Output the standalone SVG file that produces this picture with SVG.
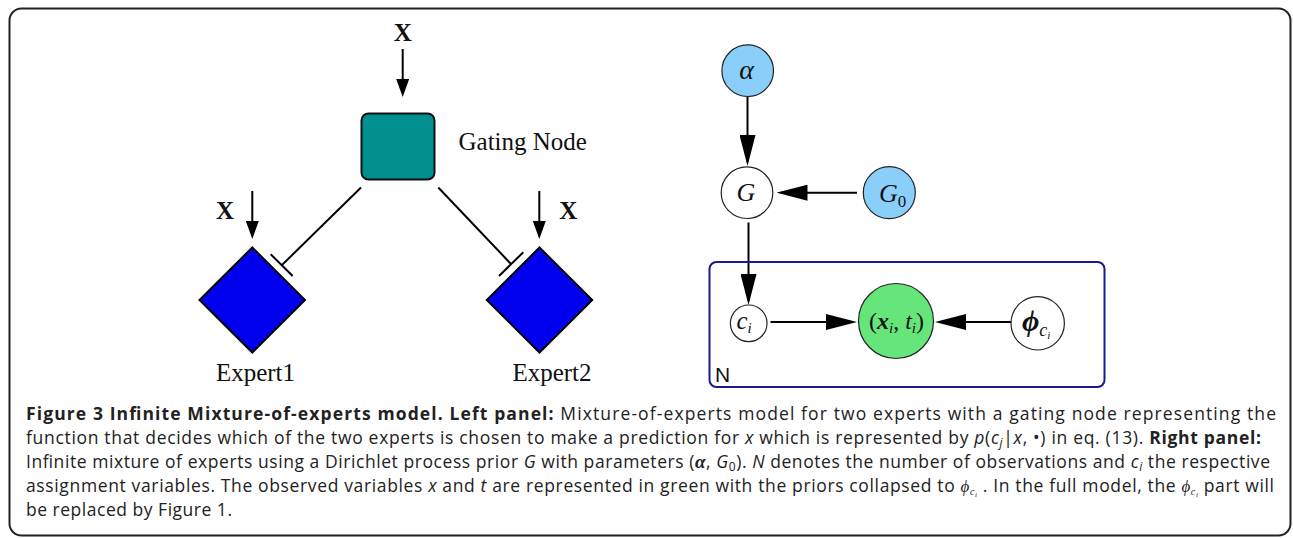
<svg xmlns="http://www.w3.org/2000/svg" width="1293" height="538" viewBox="0 0 1293 538">
<style>
.lbl{font-family:"Liberation Serif","Times New Roman",serif;fill:#111}
.math{font-family:"Liberation Serif","DejaVu Serif",serif;font-style:italic;fill:#111}
.cap{font-family:"Open Sans","Noto Sans",sans-serif;font-size:17.5px;fill:#222}
.b{font-weight:700}
.i{font-style:italic}
.edge{stroke:#000;stroke-width:2;fill:none}
.circ{stroke:#222;stroke-width:1.2}
</style>
<defs>
<marker id="arrL" markerUnits="userSpaceOnUse" markerWidth="18" markerHeight="13" refX="14" refY="6.5" orient="auto">
<path d="M0,0 L18,6.5 L0,13 z" fill="#000"/>
</marker>
<marker id="arrR" markerUnits="userSpaceOnUse" markerWidth="31" markerHeight="16" refX="27" refY="8" orient="auto">
<path d="M0,0 L31,8 L0,16 z" fill="#000"/>
</marker>
</defs>
<rect id="frame" x="9.5" y="8.5" width="1281" height="527" rx="12" fill="#fff" stroke="#222" stroke-width="2"/>

<g id="connectors">
<line class="edge" x1="402.7" y1="49" x2="402.7" y2="93" marker-end="url(#arrL)"/>
<line class="edge" x1="252.3" y1="191" x2="252.3" y2="235" marker-end="url(#arrL)"/>
<line class="edge" x1="539.3" y1="191" x2="539.3" y2="235" marker-end="url(#arrL)"/>
<line class="edge" x1="361" y1="187.5" x2="282" y2="265"/>
<line class="edge" x1="270.7" y1="254.3" x2="292.7" y2="276"/>
<line class="edge" x1="438.3" y1="187.5" x2="511" y2="264"/>
<line class="edge" x1="499" y1="276" x2="523.3" y2="252.3"/>
<line class="edge" x1="747.5" y1="96.5" x2="747.5" y2="162" marker-end="url(#arrR)"/>
<line class="edge" x1="857" y1="192.7" x2="780.5" y2="192.7" marker-end="url(#arrR)"/>
<line class="edge" x1="748.5" y1="222.5" x2="748.5" y2="301" marker-end="url(#arrR)"/>
<line class="edge" x1="770.5" y1="322" x2="853" y2="322" marker-end="url(#arrR)"/>
<line class="edge" x1="1011" y1="322" x2="939" y2="322" marker-end="url(#arrR)"/>
</g>

<g id="x-top"><text class="lbl b" x="402.7" y="40.7" font-size="25" text-anchor="middle">X</text></g>
<g id="gating">
<rect x="361.5" y="113.5" width="73" height="66" rx="7" fill="#008f8f" stroke="#111" stroke-width="2"/>
<text class="lbl" x="458.5" y="150" font-size="25">Gating Node</text>
</g>
<g id="x-left"><text class="lbl b" x="225" y="219" font-size="25" text-anchor="middle">X</text></g>
<g id="x-right"><text class="lbl b" x="568.3" y="219" font-size="25" text-anchor="middle">X</text></g>
<g id="expert1">
<polygon points="252.3,247.5 305,300 252.3,352.5 199.5,300" fill="#0000ee" stroke="#000" stroke-width="2"/>
<text class="lbl" x="255.5" y="381" font-size="25" text-anchor="middle">Expert1</text>
</g>
<g id="expert2">
<polygon points="539.5,247.5 592.2,300 539.5,352.5 486.8,300" fill="#0000ee" stroke="#000" stroke-width="2"/>
<text class="lbl" x="552" y="381" font-size="25" text-anchor="middle">Expert2</text>
</g>

<g id="plate">
<rect x="709.5" y="262" width="395" height="125" rx="7" fill="none" stroke="#1a1a8c" stroke-width="2"/>
<text x="715" y="382" font-family="'Liberation Sans',Arial,sans-serif" font-size="21" fill="#111">N</text>
</g>
<g id="alpha">
<circle class="circ" cx="747.7" cy="70.7" r="25.8" fill="#89cffa"/>
<text class="math" x="746.5" y="78.5" font-size="28" text-anchor="middle">α</text>
</g>
<g id="G">
<circle class="circ" cx="747" cy="192.7" r="25.8" fill="#fff"/>
<text class="math" x="746" y="201" font-size="26" text-anchor="middle">G</text>
</g>
<g id="G0">
<circle class="circ" cx="889.3" cy="192.7" r="26" fill="#89cffa"/>
<text class="math" x="879" y="202" font-size="26">G<tspan font-style="normal" font-size="17" dy="5">0</tspan></text>
</g>
<g id="ci">
<circle class="circ" cx="748.7" cy="323.3" r="18.3" fill="#fff"/>
<text class="math" x="736.5" y="329" font-size="25">c<tspan font-size="15" dy="4">i</tspan></text>
</g>
<g id="xt">
<circle class="circ" cx="896" cy="321" r="37.5" fill="#66e67a"/>
<text class="math" x="896.5" y="329" font-size="24" text-anchor="middle"><tspan font-style="normal">(</tspan><tspan font-weight="700">x</tspan><tspan font-size="15" dy="4">i</tspan><tspan font-style="normal" dy="-4">, </tspan>t<tspan font-size="15" dy="4">i</tspan><tspan font-style="normal" dy="-4">)</tspan></text>
</g>
<g id="phi">
<circle class="circ" cx="1037.7" cy="323.3" r="26.7" fill="#fff"/>
<text class="math" x="1022" y="331" font-size="30" font-weight="700">ϕ<tspan font-weight="400" font-size="18" dy="5">c</tspan><tspan font-weight="400" font-size="11" dy="3">i</tspan></text>
</g>

<g id="caption">
<text class="cap" x="26" y="420" textLength="1250" lengthAdjust="spacing"><tspan class="b">Figure 3 Infinite Mixture-of-experts model. Left panel:</tspan> Mixture-of-experts model for two experts with a gating node representing the</text>
<text class="cap" x="26" y="444" textLength="1235" lengthAdjust="spacing">function that decides which of the two experts is chosen to make a prediction for <tspan class="i">x</tspan> which is represented by <tspan class="i">p</tspan>(<tspan class="i">c</tspan><tspan class="i" font-size="12" dy="3">j</tspan><tspan dy="-3">|</tspan><tspan class="i">x</tspan>, •) in eq. (13). <tspan class="b">Right panel:</tspan></text>
<text class="cap" x="26" y="468" textLength="1244" lengthAdjust="spacing">Infinite mixture of experts using a Dirichlet process prior <tspan class="i">G</tspan> with parameters (<tspan class="b i" font-family="'Liberation Serif',serif" font-size="19">α</tspan>, <tspan class="i">G</tspan><tspan font-size="12" dy="3">0</tspan><tspan dy="-3">).</tspan> <tspan class="i">N</tspan> denotes the number of observations and <tspan class="i">c</tspan><tspan class="i" font-size="12" dy="3">i</tspan><tspan dy="-3"> the respective</tspan></text>
<text class="cap" x="26" y="492" textLength="1248" lengthAdjust="spacing">assignment variables. The observed variables <tspan class="i">x</tspan> and <tspan class="i">t</tspan> are represented in green with the priors collapsed to <tspan class="i" font-family="'Liberation Serif',serif" font-size="17">ϕ</tspan><tspan class="i" font-family="'Liberation Serif',serif" font-size="10" dy="3">c</tspan><tspan class="i" font-family="'Liberation Serif',serif" font-size="7" dy="2">i</tspan><tspan dy="-5"> . In the full model, the </tspan><tspan class="i" font-family="'Liberation Serif',serif" font-size="17">ϕ</tspan><tspan class="i" font-family="'Liberation Serif',serif" font-size="10" dy="3">c</tspan><tspan class="i" font-family="'Liberation Serif',serif" font-size="7" dy="2">i</tspan><tspan dy="-5">  part will</tspan></text>
<text class="cap" x="26" y="516" textLength="206" lengthAdjust="spacing">be replaced by Figure 1.</text>
</g>
</svg>
